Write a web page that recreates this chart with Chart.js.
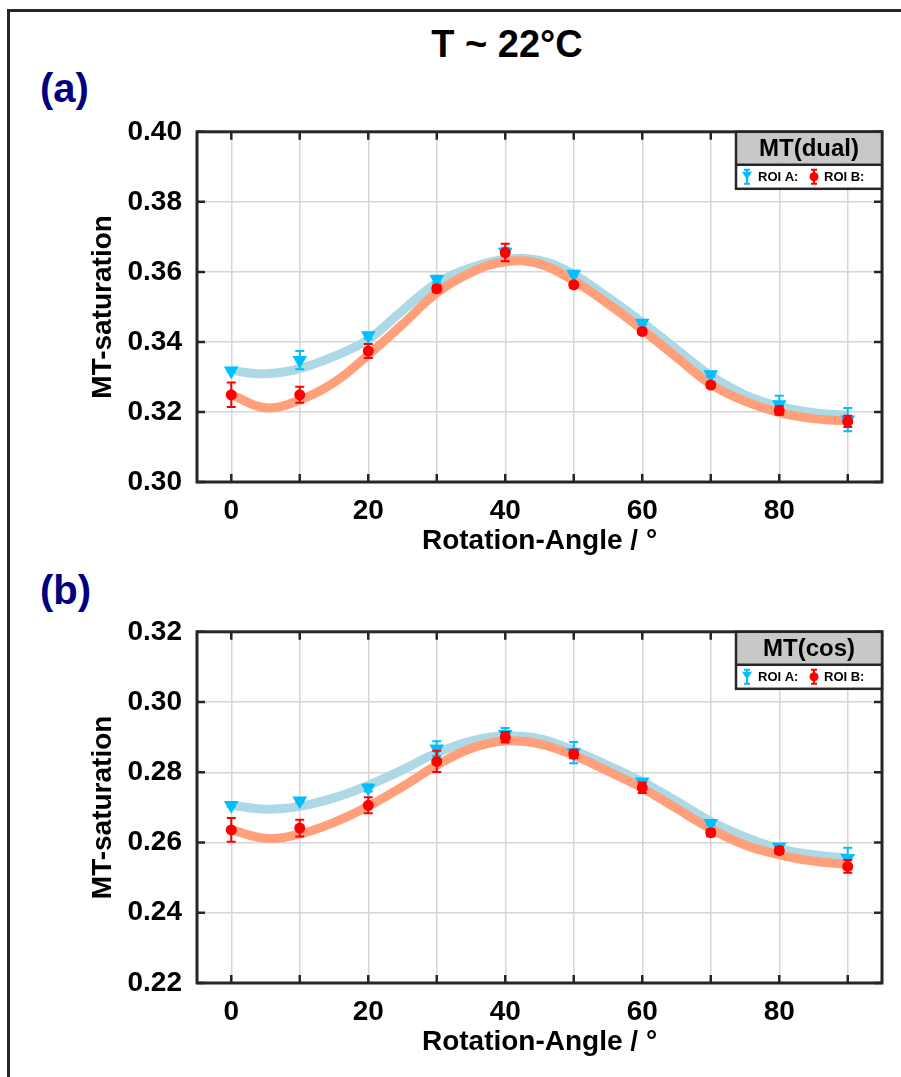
<!DOCTYPE html>
<html>
<head>
<meta charset="utf-8">
<script src="https://cdn.jsdelivr.net/npm/chart.js@4.4.1/dist/chart.umd.min.js"></script>
<style>
  body { margin: 0; background: #fff; width: 901px; height: 1077px; overflow: hidden; position: relative; font-family: "Liberation Sans", Arial, sans-serif; }
  .frame { position: absolute; left: 7px; top: 9px; width: 894px; height: 1068px; border-top: 3px solid #262626; border-left: 3px solid #262626; box-sizing: border-box; }
  .title { position: absolute; top: 25px; left: 0; width: 1014px; text-align: center; font-weight: bold; font-size: 38px; line-height: 1; color: #000; }
  .panel { position: absolute; left: 40px; font-weight: bold; font-size: 40px; line-height: 1; color: #000080; }
  canvas { position: absolute; left: 0; }
</style>
</head>
<body>
<div class="frame"></div>
<div class="title">T ~ 22°C</div>
<div class="panel" style="top:68px">(a)</div>
<div class="panel" style="top:570px">(b)</div>
<canvas id="chartA" width="901" height="465" style="top:100px"></canvas>
<canvas id="chartB" width="901" height="465" style="top:600px"></canvas>
<script>
// Messwinkel und Fit-Stützstellen
const angles = [0, 10, 20, 30, 40, 50, 60, 70, 80, 90];
const fitAngles = [0, 5, 10, 15, 20, 25, 30, 35, 40, 45, 50, 55, 60, 65, 70, 75, 80, 85, 90];
const gridAngles = [0, 10, 20, 30, 40, 50, 60, 70, 80, 90];
const xLabelAngles = [0, 20, 40, 60, 80];

// (a) MT(dual)
const dualRoiA    = [0.3318, 0.3348, 0.3418, 0.3579, 0.3657, 0.3594, 0.3454, 0.3307, 0.3221, 0.3178];
const dualRoiAErr = [0.0004, 0.0026, 0.0008, 0.0010, 0.0012, 0.0005, 0.0006, 0.0006, 0.0025, 0.0033];
const dualRoiB    = [0.3249, 0.3249, 0.3374, 0.3552, 0.3655, 0.3563, 0.3430, 0.3277, 0.3204, 0.3173];
const dualRoiBErr = [0.0035, 0.0023, 0.0020, 0.0010, 0.0025, 0.0008, 0.0008, 0.0008, 0.0012, 0.0016];
const dualFitA = [0.3318, 0.3309, 0.3324, 0.3359, 0.3407, 0.3490, 0.3568, 0.3612, 0.3636, 0.3633, 0.3593, 0.3527, 0.3456, 0.3379, 0.3304, 0.3249, 0.3216, 0.3198, 0.3190];
const dualFitB = [0.3249, 0.3212, 0.3234, 0.3284, 0.3363, 0.3450, 0.3540, 0.3598, 0.3629, 0.3623, 0.3574, 0.3509, 0.3435, 0.3356, 0.3279, 0.3230, 0.3198, 0.3181, 0.3174];
const dualTicks = [0.30, 0.32, 0.34, 0.36, 0.38, 0.40];

// (b) MT(cos)
const cosRoiA    = [0.2706, 0.2719, 0.2755, 0.2867, 0.2908, 0.2856, 0.2773, 0.2655, 0.2588, 0.2555];
const cosRoiAErr = [0.0004, 0.0005, 0.0010, 0.0021, 0.0018, 0.0030, 0.0008, 0.0006, 0.0008, 0.0030];
const cosRoiB    = [0.2636, 0.2641, 0.2706, 0.2831, 0.2900, 0.2852, 0.2756, 0.2628, 0.2577, 0.2532];
const cosRoiBErr = [0.0034, 0.0024, 0.0023, 0.0030, 0.0015, 0.0012, 0.0015, 0.0010, 0.0010, 0.0018];
const cosFitA = [0.2706, 0.2695, 0.2703, 0.2727, 0.2763, 0.2807, 0.2855, 0.2889, 0.2903, 0.2896, 0.2862, 0.2819, 0.2773, 0.2718, 0.2660, 0.2616, 0.2583, 0.2565, 0.2556];
const cosFitB = [0.2636, 0.2612, 0.2624, 0.2657, 0.2703, 0.2759, 0.2820, 0.2868, 0.2889, 0.2881, 0.2848, 0.2803, 0.2755, 0.2697, 0.2639, 0.2593, 0.2565, 0.2547, 0.2537];
const cosTicks = [0.22, 0.24, 0.26, 0.28, 0.30, 0.32];

const FONT = '"Liberation Sans", Arial, sans-serif';
const AXIS = '#262626';
const BLUE = '#00bfff';
const RED = '#ff0000';

const toXY = (xs, ys) => xs.map((x, i) => ({ x: x, y: ys[i] }));

// Fehlerbalken, Rahmen mit Innenticks und Legendenkasten
const boxPlugin = {
  id: 'box',
  beforeDatasetDraw(chart, args) {
    const ds = chart.data.datasets[args.index];
    if (!ds.errors) return;
    const ctx = chart.ctx, sx = chart.scales.x, sy = chart.scales.y;
    ctx.save();
    ctx.strokeStyle = ds.backgroundColor;
    ctx.lineWidth = 2;
    ds.data.forEach((p, i) => {
      const px = sx.getPixelForValue(p.x);
      const y1 = sy.getPixelForValue(p.y - ds.errors[i]);
      const y2 = sy.getPixelForValue(p.y + ds.errors[i]);
      ctx.beginPath();
      ctx.moveTo(px, y1); ctx.lineTo(px, y2);
      ctx.moveTo(px - 4.5, y1); ctx.lineTo(px + 4.5, y1);
      ctx.moveTo(px - 4.5, y2); ctx.lineTo(px + 4.5, y2);
      ctx.stroke();
    });
    ctx.restore();
  },
  afterDatasetsDraw(chart, args, opts) {
    const ctx = chart.ctx, ca = chart.chartArea;
    const sx = chart.scales.x, sy = chart.scales.y;
    ctx.save();
    ctx.strokeStyle = AXIS;
    ctx.lineWidth = 2.5;
    ctx.beginPath();
    sx.ticks.forEach(t => {
      const px = sx.getPixelForValue(t.value);
      ctx.moveTo(px, ca.bottom); ctx.lineTo(px, ca.bottom - 8);
      ctx.moveTo(px, ca.top); ctx.lineTo(px, ca.top + 8);
    });
    sy.ticks.forEach(t => {
      const py = sy.getPixelForValue(t.value);
      ctx.moveTo(ca.left, py); ctx.lineTo(ca.left + 8, py);
      ctx.moveTo(ca.right, py); ctx.lineTo(ca.right - 8, py);
    });
    ctx.stroke();
    ctx.lineWidth = 3;
    ctx.strokeRect(ca.left, ca.top, ca.right - ca.left, ca.bottom - ca.top);

    // Legende
    const w = 146, h1 = 33, h2 = 24;
    const x0 = ca.right - w, y0 = ca.top;
    ctx.fillStyle = '#c8c8c8';
    ctx.fillRect(x0, y0, w, h1);
    ctx.fillStyle = 'rgba(255,255,255,0.85)';
    ctx.fillRect(x0, y0 + h1, w, h2);
    ctx.lineWidth = 2.5;
    ctx.strokeRect(x0, y0, w, h1 + h2);
    ctx.beginPath();
    ctx.moveTo(x0, y0 + h1); ctx.lineTo(x0 + w, y0 + h1);
    ctx.stroke();
    ctx.fillStyle = '#000';
    ctx.textAlign = 'center';
    ctx.textBaseline = 'middle';
    ctx.font = 'bold 24px ' + FONT;
    ctx.fillText(opts.title, x0 + w / 2, y0 + h1 / 2 + 1);

    const ym = y0 + h1 + h2 / 2;
    // Marker ROI A
    let mx = x0 + 11;
    ctx.strokeStyle = BLUE; ctx.fillStyle = BLUE; ctx.lineWidth = 2;
    ctx.beginPath();
    ctx.moveTo(mx, ym - 7); ctx.lineTo(mx, ym + 7);
    ctx.moveTo(mx - 3, ym - 7); ctx.lineTo(mx + 3, ym - 7);
    ctx.moveTo(mx - 3, ym + 7); ctx.lineTo(mx + 3, ym + 7);
    ctx.stroke();
    ctx.beginPath();
    ctx.moveTo(mx - 5, ym - 5); ctx.lineTo(mx + 5, ym - 5); ctx.lineTo(mx, ym + 3);
    ctx.closePath(); ctx.fill();
    // Marker ROI B
    mx = x0 + 78;
    ctx.strokeStyle = RED; ctx.fillStyle = RED;
    ctx.beginPath();
    ctx.moveTo(mx, ym - 7); ctx.lineTo(mx, ym + 7);
    ctx.moveTo(mx - 3, ym - 7); ctx.lineTo(mx + 3, ym - 7);
    ctx.moveTo(mx - 3, ym + 7); ctx.lineTo(mx + 3, ym + 7);
    ctx.stroke();
    ctx.beginPath();
    ctx.arc(mx, ym, 4.5, 0, Math.PI * 2); ctx.fill();

    ctx.fillStyle = '#000';
    ctx.textAlign = 'left';
    ctx.font = 'bold 13px ' + FONT;
    ctx.fillText('ROI A:', x0 + 22, ym + 1);
    ctx.fillText('ROI B:', x0 + 88, ym + 1);
    ctx.restore();
  }
};

function makeChart(id, fitA, fitB, roiA, errA, roiB, errB, yTicks, legendTitle, padTop, padBottom) {
  const tickFont = { family: FONT, size: 28, weight: 'bold' };
  return new Chart(document.getElementById(id), {
    type: 'scatter',
    data: {
      datasets: [
        { type: 'scatter', label: 'ROI B', data: toXY(angles, roiB), errors: errB, order: 1,
          pointStyle: 'circle', pointRadius: 5.5, backgroundColor: RED, borderColor: RED, borderWidth: 0 },
        { type: 'scatter', label: 'ROI A', data: toXY(angles, roiA), errors: errA, order: 2,
          pointStyle: 'triangle', pointRotation: 180, pointRadius: 8.5, backgroundColor: BLUE, borderColor: BLUE, borderWidth: 0 },
        { type: 'line', label: 'Fit B', data: toXY(fitAngles, fitB), order: 3,
          borderColor: '#ffa07a', borderWidth: 9, pointRadius: 0, tension: 0.4, fill: false },
        { type: 'line', label: 'Fit A', data: toXY(fitAngles, fitA), order: 4,
          borderColor: '#add8e6', borderWidth: 9, pointRadius: 0, tension: 0.4, fill: false }
      ]
    },
    options: {
      responsive: false,
      animation: false,
      devicePixelRatio: 1,
      layout: { padding: { top: padTop, left: 0, right: 19, bottom: padBottom } },
      plugins: { legend: { display: false }, tooltip: { enabled: false }, box: { title: legendTitle } },
      scales: {
        x: {
          type: 'linear', min: -5, max: 95,
          afterBuildTicks: s => { s.ticks = gridAngles.map(v => ({ value: v })); },
          afterFit: s => { s.height = 76; },
          border: { display: false },
          grid: { color: '#d6d6d6', lineWidth: 1.5, drawTicks: false },
          ticks: { autoSkip: false, maxRotation: 0, padding: 12, color: '#000', font: tickFont,
                   callback: v => xLabelAngles.includes(v) ? String(v) : '' },
          title: { display: true, text: 'Rotation-Angle / °', color: '#000', font: tickFont, padding: { top: 0, bottom: 0 } }
        },
        y: {
          type: 'linear', min: yTicks[0], max: yTicks[yTicks.length - 1],
          afterBuildTicks: s => { s.ticks = yTicks.map(v => ({ value: v })); },
          afterFit: s => { s.width = 197; },
          border: { display: false },
          grid: { color: '#d6d6d6', lineWidth: 1.5, drawTicks: false },
          ticks: { padding: 15, color: '#000', font: tickFont, callback: v => v.toFixed(2) },
          title: { display: true, text: 'MT-saturation', color: '#000', font: tickFont, padding: { top: 86, bottom: 0 } }
        }
      }
    },
    plugins: [boxPlugin]
  });
}

makeChart('chartA', dualFitA, dualFitB, dualRoiA, dualRoiAErr, dualRoiB, dualRoiBErr, dualTicks, 'MT(dual)', 21, 7);
makeChart('chartB', cosFitA, cosFitB, cosRoiA, cosRoiAErr, cosRoiB, cosRoiBErr, cosTicks, 'MT(cos)', 23, 6);
</script>
</body>
</html>
